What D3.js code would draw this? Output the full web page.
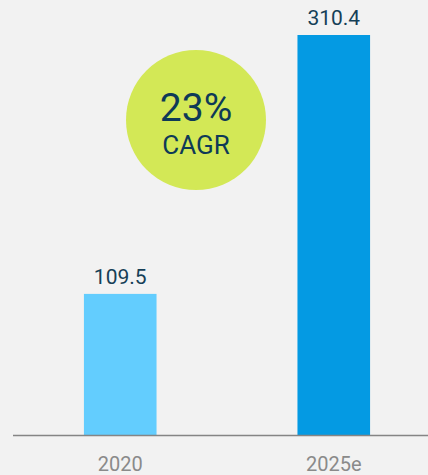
<!DOCTYPE html>
<html>
<head>
<meta charset="utf-8">
<script src="https://cdn.jsdelivr.net/npm/d3@7/dist/d3.min.js"></script>
<style>
  html, body { margin: 0; padding: 0; background: #f2f2f2; }
  svg { display: block; }
  text { font-family: Roboto, "Noto Sans", sans-serif; }
</style>
</head>
<body>
<script>
// Market size, 2020 vs 2025 estimate
const years = ["2020", "2025e"];
const values = [109.5, 310.4];
const barColors = ["#63cdfe", "#049ae3"];
const cagrValue = "23%";
const cagrLabel = "CAGR";

const width = 428, height = 475;
const baseline = 435;

const svg = d3.select("body").append("svg")
  .attr("width", width)
  .attr("height", height);

svg.append("rect").attr("width", width).attr("height", height).attr("fill", "#f2f2f2");

const x = d3.scaleBand()
  .domain(years)
  .range([-57, 511])
  .padding(0.66);

const y = d3.scaleLinear()
  .domain([0, 310.4])
  .range([baseline, 35]);

// Bars
svg.selectAll("rect.bar")
  .data(years)
  .join("rect")
  .attr("class", "bar")
  .attr("x", d => x(d))
  .attr("width", x.bandwidth())
  .attr("y", (d, i) => y(values[i]))
  .attr("height", (d, i) => baseline - y(values[i]))
  .attr("fill", (d, i) => barColors[i]);

// Value labels
svg.selectAll("text.value")
  .data(years)
  .join("text")
  .attr("class", "value")
  .attr("x", d => x(d) + x.bandwidth() / 2)
  .attr("y", (d, i) => y(values[i]) - 10)
  .attr("text-anchor", "middle")
  .attr("font-size", 21)
  .attr("fill", "#163f57")
  .text((d, i) => values[i].toFixed(1));

// Baseline axis
const axis = svg.append("g").attr("transform", `translate(0,${baseline})`)
  .call(d3.axisBottom(x).tickSize(0).tickPadding(22));
axis.select(".domain").remove();
axis.append("line")
  .attr("x1", 13).attr("x2", width)
  .attr("y1", 0.5).attr("y2", 0.5)
  .attr("stroke", "#858585").attr("stroke-width", 1.6);
axis.selectAll(".tick text")
  .attr("font-size", 20)
  .attr("fill", "#8a8a8a")
  .attr("font-family", "Roboto, 'Noto Sans', sans-serif");

// CAGR badge
const badge = svg.append("g").attr("transform", "translate(196,120)");
badge.append("circle").attr("r", 70).attr("fill", "#d3e856");
badge.append("text")
  .attr("y", 1)
  .attr("text-anchor", "middle")
  .attr("font-size", 39)
  .attr("fill", "#0e3a57")
  .text(cagrValue);
badge.append("text")
  .attr("y", 34)
  .attr("text-anchor", "middle")
  .attr("font-size", 26)
  .attr("fill", "#0e3a57")
  .text(cagrLabel);
</script>
</body>
</html>
